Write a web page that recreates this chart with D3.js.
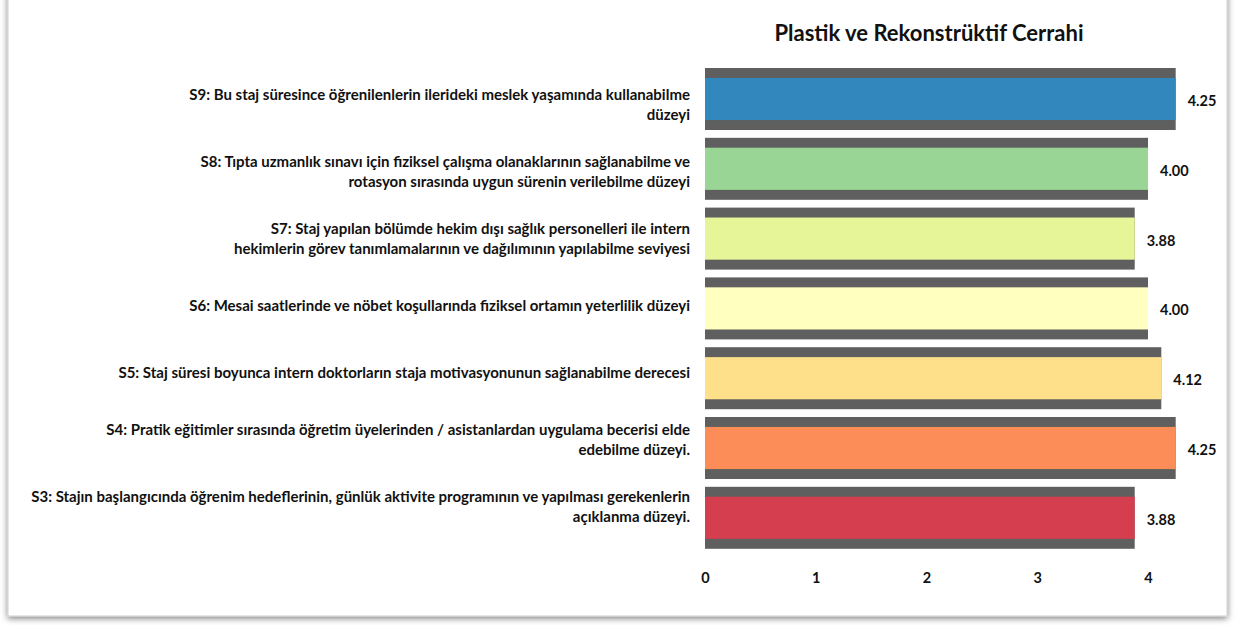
<!DOCTYPE html>
<html>
<head>
<meta charset="utf-8">
<script src="https://cdn.jsdelivr.net/npm/d3@7"></script>
<style>
  html, body { margin: 0; padding: 0; background: #ffffff; }
  svg { display: block; font-family: Lato, "Open Sans", sans-serif; }
</style>
</head>
<body>
<svg id="chart" width="1239" height="625"></svg>
<script>
// Survey items, top to bottom
const questions = ["S9", "S8", "S7", "S6", "S5", "S4", "S3"];
const questionLines = [
  ["S9: Bu staj süresince öğrenilenlerin ilerideki meslek yaşamında kullanabilme", "düzeyi"],
  ["S8: Tıpta uzmanlık sınavı için fiziksel çalışma olanaklarının sağlanabilme ve", "rotasyon sırasında uygun sürenin verilebilme düzeyi"],
  ["S7: Staj yapılan bölümde hekim dışı sağlık personelleri ile intern", "hekimlerin görev tanımlamalarının ve dağılımının yapılabilme seviyesi"],
  ["S6: Mesai saatlerinde ve nöbet koşullarında fiziksel ortamın yeterlilik düzeyi"],
  ["S5: Staj süresi boyunca intern doktorların staja motivasyonunun sağlanabilme derecesi"],
  ["S4: Pratik eğitimler sırasında öğretim üyelerinden / asistanlardan uygulama becerisi elde", "edebilme düzeyi."],
  ["S3: Stajın başlangıcında öğrenim hedeflerinin, günlük aktivite programının ve yapılması gerekenlerin", "açıklanma düzeyi."]
];
const scores = [4.25, 4.00, 3.88, 4.00, 4.12, 4.25, 3.88];
const barColors = ["#3288bd", "#99d594", "#e6f598", "#ffffbf", "#fee08b", "#fc8d59", "#d53e4f"];
const xTicks = [0, 1, 2, 3, 4];
const chartTitle = "Plastik ve Rekonstrüktif Cerrahi";

const svg = d3.select("#chart");

// Outer frame with a soft drop shadow
const defs = svg.append("defs");
const f = defs.append("filter").attr("id", "frameShadow")
  .attr("x", "-5%").attr("y", "-5%").attr("width", "110%").attr("height", "110%");
f.append("feDropShadow").attr("dx", 0).attr("dy", 2).attr("stdDeviation", 3)
  .attr("flood-color", "#000").attr("flood-opacity", 0.5);

svg.append("rect")
  .attr("x", 8).attr("y", -12).attr("width", 1219).attr("height", 628)
  .attr("fill", "#ffffff").attr("stroke", "#cfcfcf").attr("stroke-width", 1)
  .attr("filter", "url(#frameShadow)");

const x = d3.scaleLinear().domain([0, 4]).range([705, 1148]);
const y = d3.scaleBand().domain(questions).range([64.1, 552.7])
  .paddingInner(0.112).paddingOuter(0.056);
// Category text sits on its own, slightly tighter, vertical rhythm
const yLabel = d3.scalePoint().domain(questions).range([105, 507]);

const inset = y.bandwidth() * 0.16;

// Title
svg.append("text")
  .attr("x", 929).attr("y", 41)
  .attr("text-anchor", "middle")
  .attr("font-size", 22).attr("font-weight", "bold").attr("fill", "#111")
  .text(chartTitle);

// Bars: dark backing slab with coloured face
const rows = svg.append("g").selectAll("g")
  .data(questions.map((q, i) => ({ q, v: scores[i], c: barColors[i], lines: questionLines[i] })))
  .join("g");

rows.append("rect")
  .attr("x", x(0)).attr("y", d => y(d.q))
  .attr("width", d => x(d.v) - x(0)).attr("height", y.bandwidth())
  .attr("fill", "#5f5f5f");

rows.append("rect")
  .attr("x", x(0)).attr("y", d => y(d.q) + inset)
  .attr("width", d => x(d.v) - x(0)).attr("height", y.bandwidth() - 2 * inset)
  .attr("fill", d => d.c);

// Value labels
rows.append("text")
  .attr("x", d => x(d.v) + 12)
  .attr("y", d => y(d.q) + y.bandwidth() / 2 + 7)
  .attr("font-size", 14.5).attr("font-weight", "bold").attr("fill", "#111")
  .text(d => d3.format(".2f")(d.v));

// Category labels (right aligned, wrapped)
const lineGap = 20.5;
rows.append("text")
  .attr("text-anchor", "end")
  .attr("font-size", 15).attr("font-weight", "bold").attr("fill", "#111")
  .each(function (d) {
    const t = d3.select(this);
    const cy = yLabel(d.q);
    const top = cy - (d.lines.length - 1) * lineGap / 2 + 5;
    d.lines.forEach((ln, k) => {
      t.append("tspan").attr("x", 690).attr("y", top + k * lineGap).text(ln);
    });
  });

// X axis labels only
const axis = svg.append("g")
  .attr("transform", "translate(0,558)")
  .call(d3.axisBottom(x).tickValues(xTicks).tickSize(0).tickPadding(15).tickFormat(d3.format("d")));
axis.select(".domain").remove();
axis.selectAll("text")
  .attr("font-family", "Lato, 'Open Sans', sans-serif")
  .attr("font-size", 14.5).attr("font-weight", "bold").attr("fill", "#111");
</script>
</body>
</html>
